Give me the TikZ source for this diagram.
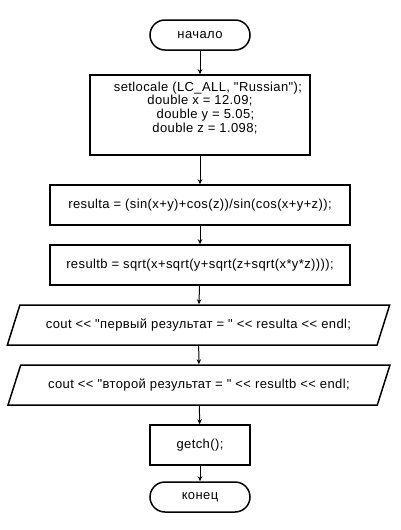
\documentclass[tikz,border=0pt]{standalone}
\usepackage{fontspec}
\setmainfont{Liberation Sans}[Ligatures=TeXOff, LetterSpace=3]
\usetikzlibrary{arrows.meta,shapes.geometric}

\begin{document}
\begin{tikzpicture}[x=1pt,y=-1pt,
        font=\fontsize{13}{13.8}\selectfont,
        box/.style={draw, line width=1.5pt, rectangle, align=center},
        term/.style={draw, line width=1.5pt, rectangle, rounded corners=15pt,
            minimum width=100pt, minimum height=30pt},
        io/.style={draw, line width=1.5pt, trapezium, trapezium left angle=60,
            trapezium right angle=120, trapezium stretches=true,
            minimum width=383pt, minimum height=40pt},
        arrow/.style={line width=1pt, -{Stealth[length=5pt,width=4.5pt]}}]
        \useasboundingbox (0,0) rectangle (400,530);

        % начало и конец
        \node[term] (start) at (200,35) {начало};
        \node[term] (stop) at (200,497) {конец};

        % блоки
        \node[box, minimum width=220pt, minimum height=80pt] (init) at (200,115)
            {\hspace*{16pt}setlocale (LC\_ALL, "Russian");\\
             double x = 12.09;\hspace*{6pt}\\
             \hspace*{11pt}double y = 5.05;\\
             \hspace*{10pt}double z = 1.098;\rule[-16pt]{0pt}{16pt}};
        \node[box, minimum width=300pt, minimum height=40pt] (calcA) at (200,205)
            {resulta = (sin(x+y)+cos(z))/sin(cos(x+y+z));};
        \node[box, minimum width=300pt, minimum height=40pt] (calcB) at (200,265)
            {resultb = sqrt(x+sqrt(y+sqrt(z+sqrt(x*y*z))));};
        \node[io] (outA) at (198.5,325)
            {cout << "первый результат = " << resulta << endl;};
        \node[io] (outB) at (199,385)
            {cout << "второй результат = " << resultb << endl;};
        \node[box, minimum width=100pt, minimum height=40pt] (pause) at (200,445)
            {getch();};

        % стрелки
        \draw[arrow] (start) -- (init);
        \draw[arrow] (init) -- (calcA);
        \draw[arrow] (calcA) -- (calcB);
        \draw[arrow] (calcB) -- (outA);
        \draw[arrow] (outA) -- (outB);
        \draw[arrow] (outB) -- (pause);
        \draw[arrow] (pause) -- (stop);

    \end{tikzpicture}
\end{document}
